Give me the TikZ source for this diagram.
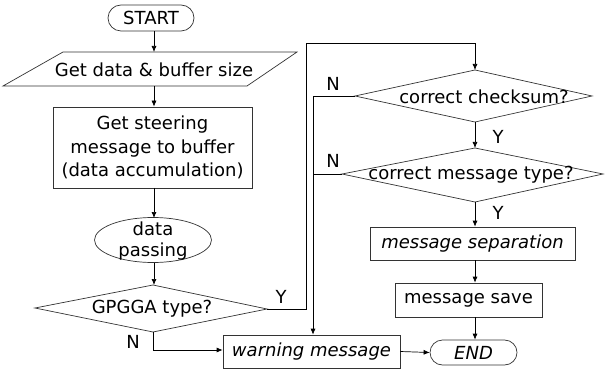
\documentclass[tikz,border=0pt]{standalone}
\usepackage{fontspec}
\setmainfont{DejaVu Sans}
\usetikzlibrary{arrows.meta,shapes.geometric,shapes.misc}
\begin{document}
\begin{tikzpicture}[x=1pt,y=-1pt,line width=0.7pt,
  every node/.style={font=\fontsize{18}{23.5}\selectfont, inner sep=0pt},
  arr/.style={-{Latex[length=6pt,width=5pt]}},
  ln/.style={draw=black},
  shp/.style={draw=black!80},
  boxn/.style={shp, rectangle, align=center},
  term/.style={shp, rounded rectangle},
  lab/.style={}]
\useasboundingbox (0,0) rectangle (609,371);
% start
\node[term, minimum width=86pt, minimum height=26pt] (start) at (151,18) {START};
% parallelogram
\coordinate (pa) at (3,86); \coordinate (pb) at (63,52);
\coordinate (pc) at (297,52); \coordinate (pd) at (247,86);
\draw[shp] (pa) -- (pb) -- (pc) -- (pd) -- cycle;
\coordinate (gdT) at (154,52); \coordinate (gdB) at (154,86);
\node (gd) at (154,70) {Get data \& buffer size};
% steering box
\node[boxn, minimum width=199pt, minimum height=81pt] (steer) at (152.5,147.5)
  {Get steering\\message to buffer\\(data accumulation)};
% ellipse
\node[shp, ellipse, minimum width=117pt, minimum height=45pt] (pass) at (153,240) {};
\node[align=center, font=\fontsize{18}{21}\selectfont] (passt) at (153,241) {data\\passing};
% GPGGA diamond
\coordinate (gL) at (35,308); \coordinate (gT) at (153,285);
\coordinate (gR) at (267,309); \coordinate (gB) at (153,332);
\draw[shp] (gL) -- (gT) -- (gR) -- (gB) -- cycle;
\node (gt) at (152,309) {GPGGA type?};
% checksum diamond
\coordinate (cL) at (355,96); \coordinate (cT) at (475,70);
\coordinate (cR) at (592,96); \coordinate (cB) at (475,122);
\draw[shp] (cL) -- (cT) -- (cR) -- (cB) -- cycle;
\node (ct) at (484,97) {correct checksum?};
% message type diamond
\coordinate (mL) at (342,174); \coordinate (mT) at (475,148);
\coordinate (mR) at (603,174); \coordinate (mB) at (475,202);
\draw[shp] (mL) -- (mT) -- (mR) -- (mB) -- cycle;
\node (mt) at (471,175) {correct message type?};
% boxes
\node[boxn, minimum width=205pt, minimum height=33pt, font=\fontsize{18}{23}\selectfont\itshape] (sep) at (472.5,243.5) {message separation};
\node[boxn, minimum width=147pt, minimum height=34pt] (save) at (468.5,300) {message save};
\node[term, minimum width=87pt, minimum height=25pt, font=\fontsize{18}{23}\selectfont\itshape] (end) at (473.5,352.5) {END};
\node[boxn, minimum width=177pt, minimum height=33pt, font=\fontsize{18}{23}\selectfont\itshape] (warn) at (311.5,351.5) {warning message};
% connectors
\coordinate (s1) at (154,188); \coordinate (s2) at (154,218);
\coordinate (s3) at (154,263);
\draw[ln,arr] (start.south -| gdT) -- (gdT);
\draw[ln,arr] (gdB) -- (gdB |- steer.north);
\draw[ln,arr] (s1) -- (s2);
\draw[ln,arr] (s3) -- (gdB |- gT);
% Y from GPGGA
\coordinate (y1) at (306,309); \coordinate (y2) at (306,43); \coordinate (y3) at (475,43);
\draw[ln,arr] (gR) -- (y1) -- (y2) -- (y3) -- (cT);
\node[lab] at (281,297) {Y};
% N from GPGGA
\coordinate (n1) at (153,350);
\draw[ln,arr] (gB) -- (n1) -- (n1 -| warn.west);
\node[lab] at (133,342) {N};
% N from checksum and message type
\coordinate (k1) at (313,96); \coordinate (k2) at (313,174);
\draw[ln] (cL) -- (k1) -- (k2);
\draw[ln,arr] (mL) -- (k2) -- (k2 |- warn.north);
\node[lab] at (333,84) {N};
\node[lab] at (333,161) {N};
% main right chain
\draw[ln,arr] (cB) -- (mT);
\node[lab] at (498,137) {Y};
\draw[ln,arr] (mB) -- (mB |- sep.north);
\node[lab] at (498,213) {Y};
\draw[ln,arr] (sep.south -| mB) -- (mB |- save.north);
\draw[ln,arr] (save.south -| mB) -- (mB |- end.north);
\draw[ln,arr] (warn.east) -- (end.west);
\end{tikzpicture}
\end{document}
